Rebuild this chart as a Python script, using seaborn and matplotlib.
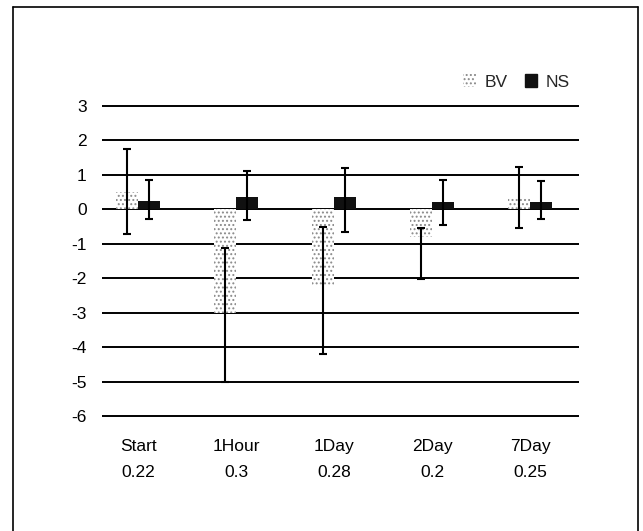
import matplotlib
matplotlib.use("Agg")
import matplotlib.pyplot as plt
import seaborn as sns
import pandas as pd
import numpy as np
from matplotlib.patches import Patch
from matplotlib.lines import Line2D

categories = ["Start", "1Hour", "1Day", "2Day", "7Day"]
bottom_labels = ["0.22", "0.3", "0.28", "0.2", "0.25"]
series = ["BV", "NS"]

bv_mean = [0.5, -3.0, -2.2, -0.8, 0.34]
bv_lo = [-0.72, -5.0, -4.2, -2.02, -0.54]
bv_hi = [1.76, -1.12, -0.52, -0.54, 1.22]

ns_mean = [0.23, 0.35, 0.35, 0.22, 0.2]
ns_lo = [-0.28, -0.3, -0.67, -0.46, -0.28]
ns_hi = [0.85, 1.1, 1.19, 0.85, 0.83]

yticks = [3, 2, 1, 0, -1, -2, -3, -4, -5, -6]

sns.set_theme(style="white")
plt.rcParams["font.family"] = ["Liberation Sans", "DejaVu Sans"]
plt.rcParams["axes.unicode_minus"] = False
plt.rcParams["hatch.linewidth"] = 0.9

df = pd.DataFrame({
    "category": categories * 2,
    "series": ["BV"] * len(categories) + ["NS"] * len(categories),
    "value": bv_mean + ns_mean,
})

W, H = 643, 531
fig = plt.figure(figsize=(W / 100, H / 100), dpi=100)

ax_left, ax_right = 102, 579
ax_top, ax_bot = 104.3, 417.7
ax = fig.add_axes([ax_left / W, 1 - ax_bot / H, (ax_right - ax_left) / W, (ax_bot - ax_top) / H])

sns.barplot(data=df, x="category", y="value", hue="series", order=categories,
            hue_order=series, palette={"BV": "white", "NS": "#111111"},
            width=0.45, errorbar=None, linewidth=0, legend=False, ax=ax, zorder=2)

n = len(categories)
bv_patches = ax.patches[:n]
ns_patches = ax.patches[n:2 * n]
for p in bv_patches:
    p.set_hatch("....")
    p.set_edgecolor("#8a8a8a")
    p.set_linewidth(0)

def draw_err(patches, means, lo, hi):
    xs = [p.get_x() + p.get_width() / 2 for p in patches]
    m = np.array(means)
    yerr = np.vstack([m - np.array(lo), np.array(hi) - m])
    ax.errorbar(xs, m, yerr=yerr, fmt="none", ecolor="black", elinewidth=1.5,
                capsize=3.2, capthick=1.5, zorder=4)

draw_err(bv_patches, bv_mean, bv_lo, bv_hi)
draw_err(ns_patches, ns_mean, ns_lo, ns_hi)

ax.set_xlim(-0.37, 4.5)
ax.set_ylim(-6.05, 3.05)
ax.set_yticks(yticks, labels=[str(t) for t in yticks])
ax.yaxis.grid(True, color="black", linewidth=1.4)
ax.xaxis.grid(False)
ax.set_axisbelow(True)
for s in ax.spines.values():
    s.set_visible(False)
ax.tick_params(axis="both", length=0, labelsize=12.5, colors="black")
ax.tick_params(axis="y", pad=11)
ax.tick_params(axis="x", pad=15)
ax.set_xlabel("")
ax.set_ylabel("")

for i, lab in enumerate(bottom_labels):
    ax.text(i, -0.176, lab, transform=ax.get_xaxis_transform(), ha="center",
            va="center", fontsize=12.5, color="black")

handles = [Patch(facecolor="white", edgecolor="#8a8a8a", hatch="....", linewidth=0, label="BV"),
           Patch(facecolor="#111111", edgecolor="#111111", label="NS")]
ax.legend(handles=handles, loc="center right", bbox_to_anchor=(0.995, 1.071), ncol=2,
          frameon=False, fontsize=12.5, handlelength=0.7, handleheight=0.7,
          handletextpad=0.5, columnspacing=1.0, borderaxespad=0)

# outer frame
fx0, fx1, fy0 = 13 / W, 638 / W, 1 - 7 / H
for xs_, ys_ in [([fx0, fx0], [0, fy0]), ([fx0, fx1], [fy0, fy0]), ([fx1, fx1], [fy0, 0])]:
    fig.add_artist(Line2D(xs_, ys_, transform=fig.transFigure, color="black", linewidth=1.2))

fig.savefig("out.png", dpi=100, facecolor="white")
